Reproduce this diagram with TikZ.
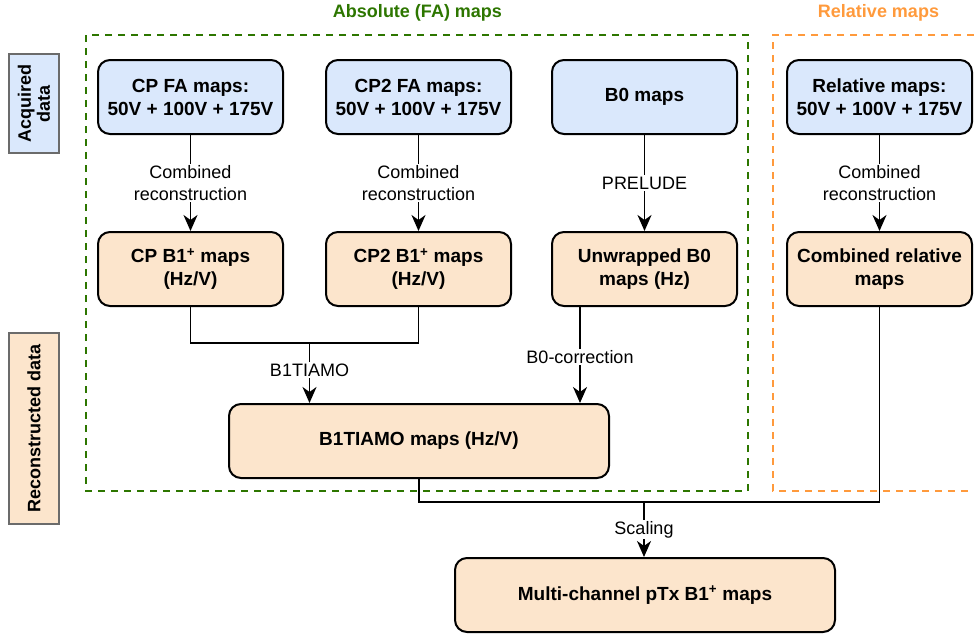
\documentclass[tikz,border=0pt]{standalone}
\usepackage{fontspec}
\setmainfont{Liberation Sans}
\usetikzlibrary{arrows.meta}
\definecolor{bluefill}{HTML}{DAE8FC}
\definecolor{orfill}{HTML}{FCE5CC}
\definecolor{grn}{HTML}{2D7600}
\definecolor{org}{HTML}{FF9A3C}
\definecolor{graybd}{HTML}{6B6B6B}
\tikzset{
  box/.style={draw=black, line width=2pt, rounded corners=12pt, minimum width=185pt, minimum height=74pt, align=center, inner sep=2pt, font=\fontsize{19}{23}\selectfont\bfseries},
  acq/.style={box, fill=bluefill},
  rec/.style={box, fill=orfill},
  wide/.style={rec, minimum width=380pt},
  side/.style={draw=graybd, line width=1.5pt, rotate=90, minimum height=50pt, align=center, inner sep=1pt, font=\fontsize{18}{19}\selectfont\bfseries},
  conn/.style={line width=1.8pt, draw=black},
  arr/.style={conn, -{Stealth[length=16pt,width=14pt,inset=5pt]}},
  lbl/.style={fill=white, inner sep=1.5pt, align=center, font=\fontsize{18}{22}\selectfont},
  title/.style={font=\fontsize{18}{20}\selectfont\bfseries},
  grp/.style={line width=2pt, dash pattern=on 7pt off 6pt},
}
\begin{document}
\begin{tikzpicture}[x=1pt, y=-1pt]
\useasboundingbox (0,0) rectangle (974,635);
% group frames
\draw[grp, draw=grn] (86,35) rectangle (748,491);
\draw[grp, draw=org] (974,35) -- (773,35) -- (773,491) -- (974,491);
\node[title, text=grn] (tabs) at (417.5,13) {Absolute (FA) maps};
\node[title, text=org] (trel) at (878.5,13) {Relative maps};
% side labels
\node[side, fill=bluefill, minimum width=99pt] (sacq) at (34,103.5) {Acquired\\data};
\node[side, fill=orfill, minimum width=191pt] (srec) at (34,428.5) {Reconstructed data};
% acquired
\node[acq] (cpfa) at (190.5,97) {CP FA maps:\\50V + 100V + 175V};
\node[acq] (cp2fa) at (418.5,97) {CP2 FA maps:\\50V + 100V + 175V};
\node[acq] (b0) at (644.5,97) {B0 maps};
\node[acq] (relfa) at (879.5,97) {Relative maps:\\50V + 100V + 175V};
% reconstructed
\node[rec] (cpb1) at (190.5,269) {CP B1\textsuperscript{+} maps\\(Hz/V)};
\node[rec] (cp2b1) at (418.5,269) {CP2 B1\textsuperscript{+} maps\\(Hz/V)};
\node[rec] (unwr) at (644.5,269) {Unwrapped B0\\maps (Hz)};
\node[rec] (comb) at (879.5,269) {Combined relative\\maps};
\node[wide] (tiamo) at (419,441) {B1TIAMO maps (Hz/V)};
\node[wide] (multi) at (645,595) {Multi-channel pTx B1\textsuperscript{+} maps};
% connectors
\draw[arr] (cpfa) -- node[lbl] {Combined\\reconstruction} (cpb1);
\draw[arr] (cp2fa) -- node[lbl] {Combined\\reconstruction} (cp2b1);
\draw[arr] (b0) -- node[lbl] {PRELUDE} (unwr);
\draw[arr] (relfa) -- node[lbl] {Combined\\reconstruction} (comb);
\coordinate (j1) at (309.5,343);
\coordinate (b0c) at (580,343);
\coordinate (j2) at (644,502);
\draw[conn] (cpb1.south) -- (cpb1.south |- j1) -- (cp2b1.south |- j1) -- (cp2b1.south);
\draw[arr] (j1) -- node[lbl, pos=0.45] {B1TIAMO} (tiamo.north -| j1);
\draw[arr] (unwr.south -| b0c) -- node[lbl, pos=0.52] {B0-correction} (tiamo.north -| b0c);
\draw[conn] (tiamo.south) -- (tiamo.south |- j2) -- (comb.south |- j2) -- (comb.south);
\draw[arr] (j2) -- node[lbl, pos=0.5] {Scaling} (multi.north -| j2);
\end{tikzpicture}
\end{document}
